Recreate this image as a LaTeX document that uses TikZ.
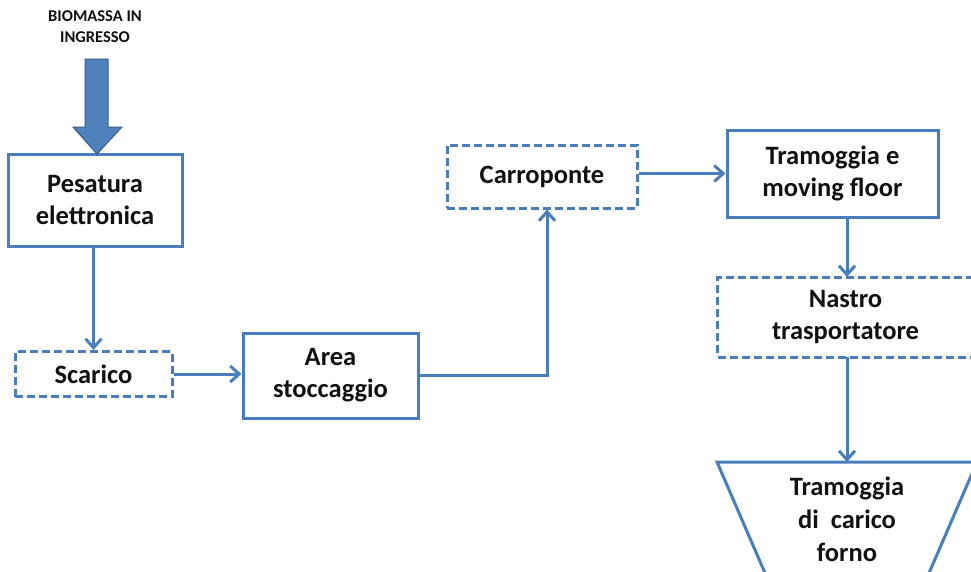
\documentclass[tikz,border=0pt]{standalone}
\usepackage{fontspec}
\setmainfont{Carlito}
\usetikzlibrary{arrows.meta,shapes.geometric}
\definecolor{lineblue}{HTML}{4A7EBB}
\definecolor{fillblue}{HTML}{4F81BD}
\definecolor{edgeblue}{HTML}{385D8A}
\definecolor{txt}{HTML}{111111}
\tikzset{
  box/.style={draw=lineblue, line width=3pt, fill=white, inner sep=0pt, text=txt,
    font=\bfseries\fontsize{26.5}{32}\selectfont, align=center},
  dbox/.style={box, dash pattern=on 8pt off 4pt},
  conn/.style={draw=lineblue, line width=3pt, -{Straight Barb[length=9pt,width=16pt,line width=3pt]}},
}
\begin{document}
\begin{tikzpicture}[x=1pt,y=-1pt]
\useasboundingbox (0,0) rectangle (971,571);
\clip (0,0) rectangle (971,571);
% title
\node[text=txt, font=\bfseries\fontsize{16.5}{21}\selectfont, align=center] (title) at (95,27) {BIOMASSA IN\\INGRESSO};
% boxes
\node[box, minimum width=174pt, minimum height=92pt] (pes) at (95,200) {Pesatura\\elettronica};
\node[dbox, minimum width=157pt, minimum height=45pt] (sca) at (93.5,374) {Scarico};
\node[box, minimum width=175pt, minimum height=85pt] (area) at (330.5,375.5) {Area\\stoccaggio};
\node[dbox, minimum width=190pt, minimum height=63pt] (car) at (542,176.5) {Carroponte};
\node[box, minimum width=211pt, minimum height=87pt] (tram) at (832.5,173.5) {Tramoggia e\\moving floor};
\node[dbox, minimum width=256pt, minimum height=80pt, anchor=west] (nas) at (716,317) {Nastro\\trasportatore};
% block arrow
\coordinate (bt) at (97,154);
\filldraw[fill=fillblue, draw=edgeblue, line width=1pt]
  (85,59) -- (108,59) -- (108,127) -- (122,127) -- (bt) -- (73,127) -- (85,127) -- cycle;
% hopper (trapezoid)
\coordinate (hop) at (847,462);
\draw[lineblue, line width=3pt] (768,580) -- (717,462) -- (977,462) -- (926,580);
\node[text=txt, font=\bfseries\fontsize{26.5}{33}\selectfont, align=center] (hoptxt) at (847,519) {Tramoggia\\di\ \ carico\\forno};
% connectors
\draw[conn] (pes.south -| sca.north) -- (sca.north);
\draw[conn] (sca.east) -- (sca.east -| area.west);
\coordinate (bend) at (547,375.5);
\draw[conn] (area.east) -- (bend) -- (bend |- car.south);
\draw[conn] (car.east |- tram.west) -- (tram.west);
\draw[conn] (847,217) -- (847,277);
\draw[conn] (847,357) -- (hop);
\end{tikzpicture}
\end{document}
